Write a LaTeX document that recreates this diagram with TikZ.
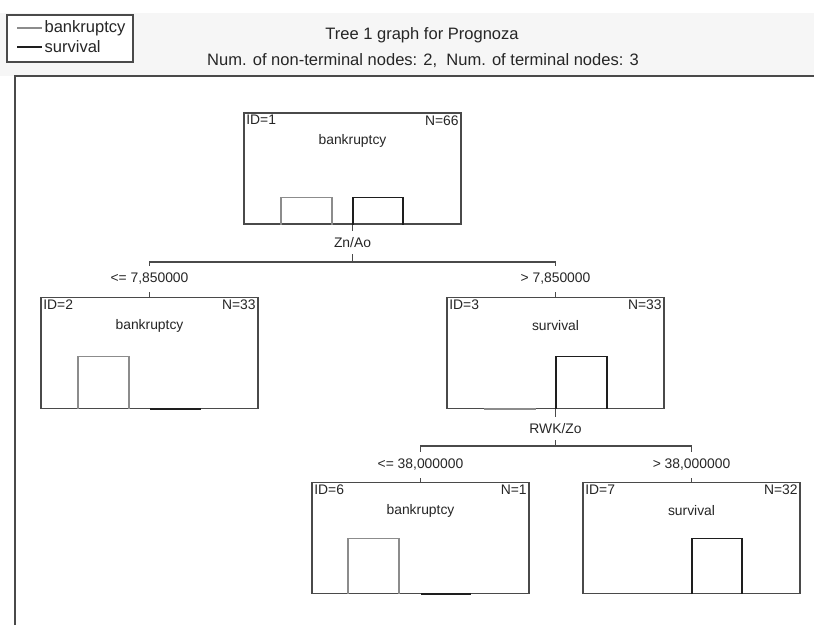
\documentclass[tikz,border=0pt]{standalone}
\usepackage{fontspec}
\setmainfont{Liberation Sans}
\usetikzlibrary{calc}
\definecolor{boxgray}{HTML}{4A4A4A}
\definecolor{bankgray}{HTML}{8C8C8C}
\definecolor{survblack}{HTML}{1E1E1E}
\definecolor{panelgray}{HTML}{F6F6F6}
\tikzset{
  treebox/.style={draw=boxgray, line width=0.9pt, fill=white, inner sep=0pt,
    minimum width=162.75pt, minimum height=83.25pt},
  treetext/.style={font=\fontsize{10.4pt}{12pt}\selectfont, text=black!85, inner sep=2pt},
  cutlabel/.style={treetext, inner sep=0pt, minimum height=17.25pt},
  branchlabel/.style={treetext, inner sep=0pt, minimum height=19.5pt},
  treeline/.style={draw=boxgray, line width=0.8pt},
  bankbar/.style={draw=bankgray, line width=0.9pt},
  survbar/.style={draw=survblack, line width=0.9pt},
  titletext/.style={font=\fontsize{12.4pt}{14pt}\selectfont, text=black!85}
}
\begin{document}
\begin{tikzpicture}[x=0.75pt, y=-0.75pt]
        \useasboundingbox (0,0) rectangle (814,625);
        
        % header panel and plot frame
        \fill[panelgray] (0,13) rectangle (814,76);
        \draw[boxgray, line width=1.2pt] (15,625) -- (15,76) -- (814,76);
        
        % legend
        \node[draw=boxgray, line width=0.8pt, fill=white, minimum width=94.5pt, minimum height=35.25pt] (legend) at (70,38.5) {};
        \draw[bankbar] (17,28) -- (42,28) node[titletext, anchor=west, inner sep=1.5pt] (lbank) {bankruptcy};
        \draw[survbar] (17,47) -- (42,47) node[titletext, anchor=west, inner sep=1.5pt] (lsurv) {survival};
        
        % titles
        \node[titletext] (title) at (422,35.5) {Tree 1 graph for Prognoza};
        \node[titletext] (subtitle) at (423,60.5) {Num. of non-terminal nodes: 2,\ \ Num. of terminal nodes: 3};
        
        % tree nodes
        \node[treebox] (n1) at (352.5,168.5) {};
        \node[treebox] (n2) at (149.5,353) {};
        \node[treebox] (n3) at (555.5,353) {};
        \node[treebox] (n6) at (420.5,538) {};
        \node[treebox] (n7) at (691.5,538) {};
        
        \node[treetext, anchor=north west] (id1) at (n1.north west) {ID=1};
        \node[treetext, anchor=north east] (cnt1) at (n1.north east) {N=66};
        \node[treetext] (cls1) at ($(n1.north)+(0,29)$) {bankruptcy};
        \node[treetext, anchor=north west] (id2) at (n2.north west) {ID=2};
        \node[treetext, anchor=north east] (cnt2) at (n2.north east) {N=33};
        \node[treetext] (cls2) at ($(n2.north)+(0,29)$) {bankruptcy};
        \node[treetext, anchor=north west] (id3) at (n3.north west) {ID=3};
        \node[treetext, anchor=north east] (cnt3) at (n3.north east) {N=33};
        \node[treetext] (cls3) at ($(n3.north)+(0,29)$) {survival};
        \node[treetext, anchor=north west] (id6) at (n6.north west) {ID=6};
        \node[treetext, anchor=north east] (cnt6) at (n6.north east) {N=1};
        \node[treetext] (cls6) at ($(n6.north)+(0,29)$) {bankruptcy};
        \node[treetext, anchor=north west] (id7) at (n7.north west) {ID=7};
        \node[treetext, anchor=north east] (cnt7) at (n7.north east) {N=32};
        \node[treetext] (cls7) at ($(n7.north)+(0,29)$) {survival};
        
        % class histograms
        \draw[bankbar] ($(n1.south)+(-71.5,0)$) |- ++(51,-27) -- ++(0,27);
        \draw[survbar] ($(n1.south)+(0.5,0)$) |- ++(50,-27) -- ++(0,27);
        \draw[bankbar] ($(n2.south)+(-71.5,0)$) |- ++(51,-53) -- ++(0,53);
        \draw[survbar, line width=1.6pt] ($(n2.south)+(0.5,0)$) -- ++(51,0);
        \draw[bankbar, line width=1.6pt] ($(n3.south)+(-71.5,0)$) -- ++(52,0);
        \draw[survbar] ($(n3.south)+(0.5,0)$) |- ++(51,-53) -- ++(0,53);
        \draw[bankbar] ($(n6.south)+(-72.5,0)$) |- ++(51,-56) -- ++(0,56);
        \draw[survbar, line width=1.6pt] ($(n6.south)+(0.5,0)$) -- ++(50,0);
        \draw[survbar] ($(n7.south)+(0.5,0)$) |- ++(50,-56) -- ++(0,56);
        
        % first split
        \node[cutlabel] (s1) at (352.5,242.5) {Zn/Ao};
        \coordinate (j1) at (352.5,262);
        \node[branchlabel] (b2) at (149.5,279) {<= 7,850000};
        \node[branchlabel] (b3) at (555.5,279) {> 7,850000};
        \draw[treeline] (n1.south) -- (s1.north);
        \draw[treeline] (s1.south) -- (j1);
        \draw[treeline] (b2.north) |- (j1) -| (b3.north);
        \draw[treeline] (b2.south) -- (n2.north);
        \draw[treeline] (b3.south) -- (n3.north);
        
        % second split
        \node[cutlabel] (s3) at (555.5,428.5) {RWK/Zo};
        \coordinate (j3) at (555.5,446);
        \node[branchlabel] (b6) at (420.5,465) {<= 38,000000};
        \node[branchlabel] (b7) at (691.5,465) {> 38,000000};
        \draw[treeline] (n3.south) -- (s3.north);
        \draw[treeline] (s3.south) -- (j3);
        \draw[treeline] (b6.north) |- (j3) -| (b7.north);
        \draw[treeline] (b6.south) -- (n6.north);
        \draw[treeline] (b7.south) -- (n7.north);
        
    \end{tikzpicture}
\end{document}
